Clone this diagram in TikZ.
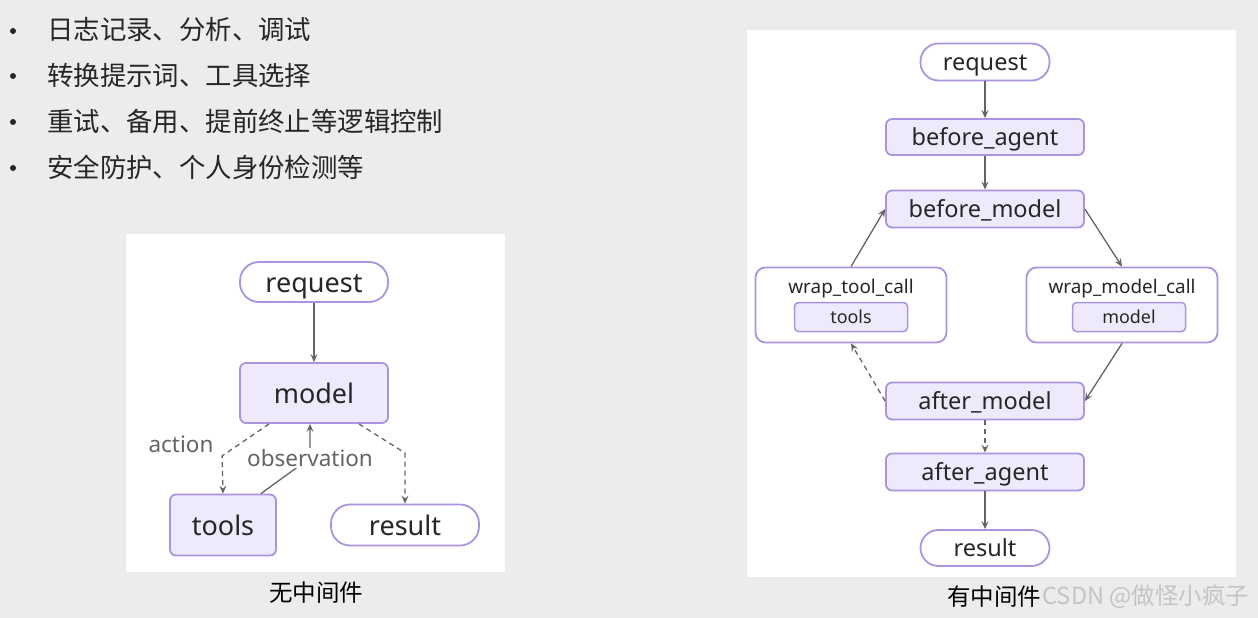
\documentclass[tikz,border=0pt]{standalone}
\usepackage{fontspec}
\setmainfont{Noto Sans}
\newfontfamily\cjk{Noto Sans CJK SC}
\usetikzlibrary{arrows.meta,positioning}
\definecolor{bgray}{RGB}{236,236,236}
\definecolor{lilac}{RGB}{170,148,226}
\definecolor{lilacfill}{RGB}{238,234,252}
\definecolor{edgegray}{RGB}{100,100,100}
\definecolor{inkgray}{RGB}{38,38,38}
\definecolor{markgray}{RGB}{196,196,196}

\begin{document}
\begin{tikzpicture}[x=1pt, y=-1pt,
  term/.style={draw=lilac, line width=1.8pt, fill=white, text=inkgray, inner sep=0pt},
  stage/.style={draw=lilac, line width=1.8pt, fill=lilacfill, text=inkgray, rounded corners=6pt, inner sep=0pt},
  wrapbox/.style={draw=lilac, line width=1.8pt, fill=white, rounded corners=10pt, minimum width=191pt, minimum height=75pt, inner sep=0pt},
  lbl/.style={text=edgegray, font=\fontsize{22.5}{26}\selectfont, inner sep=1pt},
  arr/.style={-{Stealth[length=8pt,width=7pt,inset=3pt]}, draw=edgegray, line width=1.3pt},
  darr/.style={arr, dash pattern=on 5pt off 4pt},
  bullet/.style={anchor=west, text=inkgray, font=\cjk\fontsize{26.4}{30}\selectfont, inner sep=0pt},
  caption/.style={text=black, font=\cjk\fontsize{23.5}{27}\selectfont, inner sep=0pt}
]
\useasboundingbox (0,0) rectangle (1258,618);
\fill[bgray] (0,0) rectangle (1258,618);

% bullet list
\foreach \y/\t [count=\i] in {30/日志记录、分析、调试, 75/转换提示词、工具选择, 121/重试、备用、提前终止等逻辑控制, 167/安全防护、个人身份检测等} {
  \fill[inkgray] (13,\y+1) circle (3);
  \node[bullet] (line\i) at (47,\y) {\t};
}

% panels
\fill[white] (126,234) rectangle (505,572);
\fill[white] (747,30) rectangle (1236,577);

% without middleware
\begin{scope}[every node/.append style={font=\fontsize{27}{32}\selectfont, text height=25pt, text depth=5pt}]
\node[term, rounded corners=19pt, minimum width=148pt, minimum height=40pt] (req1) at (314,282) {request};
\node[stage, minimum width=148pt, minimum height=60pt] (mod1) at (314,393) {model};
\node[stage, minimum width=106pt, minimum height=61pt] (tools1) at (223,525) {tools};
\node[term, rounded corners=19pt, minimum width=148pt, minimum height=41pt] (res1) at (405,525) {result};
\end{scope}

\draw[arr] (req1) -- (mod1);
\draw[darr] ([xshift=30pt]mod1.south west) -- ++(-47,32) -- (tools1.north);
\draw[darr] ([xshift=-30pt]mod1.south east) -- ++(46,29) -- (res1.north);
\draw[arr] ([xshift=-16pt]tools1.north east) -- (310,458) node[lbl, fill=white] (obs) {observation} -- ([xshift=-4pt]mod1.south);
\node[lbl] (act) at (181,444) {action};

% with middleware
\begin{scope}[every node/.append style={font=\fontsize{23.5}{28}\selectfont, text height=21.5pt, text depth=4.5pt}]
\node[term, rounded corners=18pt, minimum width=129pt, minimum height=37pt] (req2) at (985,62) {request};
\node[stage, minimum width=198pt, minimum height=36pt] (bagent) at (985,137) {before\_agent};
\node[stage, minimum width=198pt, minimum height=37pt] (bmodel) at (985,209) {before\_model};
\node[stage, minimum width=198pt, minimum height=37pt] (amodel) at (985,401) {after\_model};
\node[stage, minimum width=198pt, minimum height=37pt] (aagent) at (985,472) {after\_agent};
\node[term, rounded corners=18pt, minimum width=129pt, minimum height=36pt] (res2) at (985,548) {result};
\end{scope}

\node[wrapbox] (wtc) at (851,305) {};
\node[text=inkgray, font=\fontsize{18.9}{22}\selectfont] (wtclbl) at (851,288.5) {wrap\_tool\_call};
\node[stage, line width=1.5pt, rounded corners=4pt, minimum width=113pt, minimum height=29pt, font=\fontsize{17.9}{21}\selectfont] (tools2) at (851,317) {tools};

\node[wrapbox] (wmc) at (1122,305) {};
\node[text=inkgray, font=\fontsize{18.9}{22}\selectfont] (wmclbl) at (1122,288.5) {wrap\_model\_call};
\node[stage, line width=1.5pt, rounded corners=4pt, minimum width=113pt, minimum height=29pt, font=\fontsize{17.9}{21}\selectfont] (mod2) at (1129,317) {model};

\draw[arr] (req2) -- (bagent);
\draw[arr] (bagent) -- (bmodel);
\draw[arr] (bmodel.east) -- (wmc.north);
\draw[arr] (wmc.south) -- (amodel.east);
\draw[darr] (amodel.west) -- (wtc.south);
\draw[arr] (wtc.north) -- (bmodel.west);
\draw[darr] (amodel) -- (aagent);
\draw[arr] (aagent) -- (res2);

% captions
\node[caption] (cap1) at (316,593) {无中间件};
\node[caption, anchor=west] (cap2) at (947,597) {有中间件};
\node[caption, anchor=west, text=markgray, right=1pt of cap2] (wmark) {CSDN @做怪小疯子};
\end{tikzpicture}
\end{document}
